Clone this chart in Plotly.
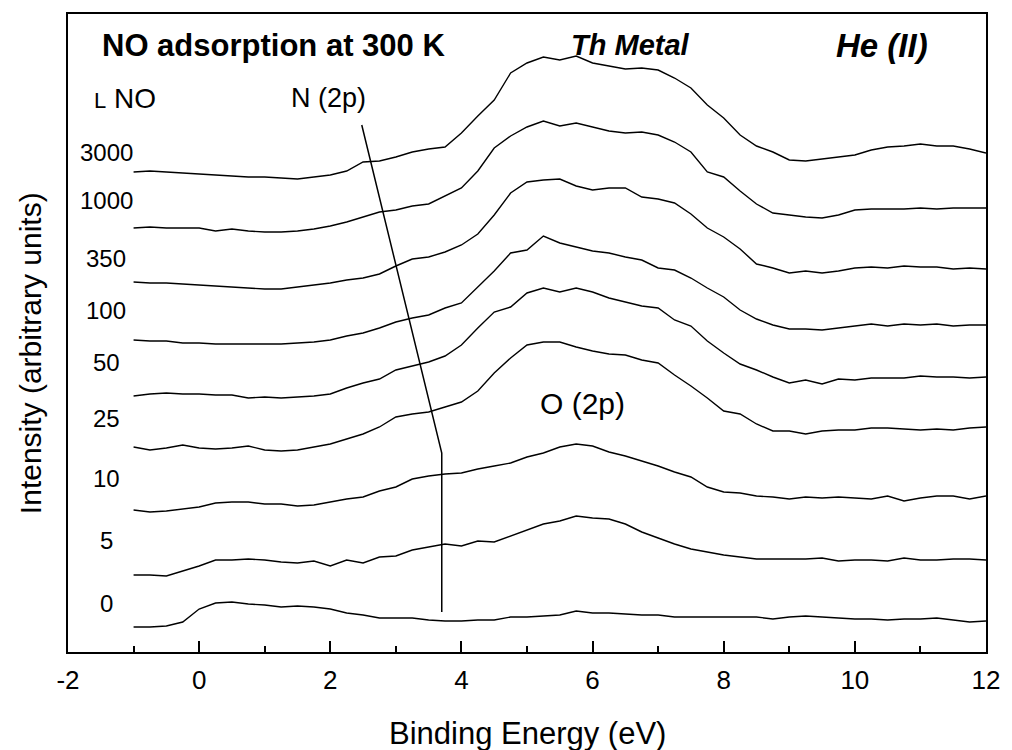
import plotly.graph_objects as go

# Binding energy grid (eV)
energy = [-1.0, -0.75, -0.5, -0.25, 0.0, 0.25, 0.5, 0.75, 1.0, 1.25, 1.5, 1.75,
          2.0, 2.25, 2.5, 2.75, 3.0, 3.25, 3.5, 3.75, 4.0, 4.25, 4.5, 4.75,
          5.0, 5.25, 5.5, 5.75, 6.0, 6.25, 6.5, 6.75, 7.0, 7.25, 7.5, 7.75,
          8.0, 8.25, 8.5, 8.75, 9.0, 9.25, 9.5, 9.75, 10.0, 10.25, 10.5, 10.75,
          11.0, 11.25, 11.5, 11.75, 12.0]

# Stacked spectra (intensity, arbitrary units, including vertical offsets)
spec_3000 = [480, 481, 480, 479, 478, 477, 476, 475, 475, 474, 473, 475, 477, 481, 490,
             491, 495, 500, 503, 505, 519, 536, 552, 579, 589, 595, 592, 596, 589, 586,
             583, 584, 582, 574, 564, 547, 534, 517, 506, 500, 492, 491, 493, 495, 497,
             502, 505, 506, 508, 506, 506, 503, 499]
spec_1000 = [424, 425, 424, 424, 424, 421, 423, 421, 420, 420, 421, 423, 426, 430, 435,
             440, 442, 446, 448, 456, 464, 481, 504, 516, 525, 531, 526, 529, 525, 521,
             519, 520, 517, 510, 500, 480, 475, 461, 448, 439, 437, 435, 434, 437, 442,
             443, 443, 443, 444, 443, 444, 444, 444]
spec_350 = [370, 369, 369, 368, 367, 366, 365, 364, 363, 363, 365, 367, 369, 372, 374,
            378, 386, 393, 395, 400, 407, 418, 437, 459, 470, 472, 473, 466, 462, 464,
            464, 455, 453, 449, 438, 424, 415, 403, 388, 384, 379, 381, 379, 381, 384,
            385, 384, 386, 385, 385, 383, 384, 383]
spec_100 = [312, 311, 311, 309, 309, 308, 308, 308, 308, 308, 309, 310, 312, 316, 319,
            324, 330, 334, 337, 344, 349, 365, 381, 399, 402, 416, 409, 405, 401, 399,
            395, 392, 384, 382, 374, 364, 355, 342, 333, 327, 323, 323, 322, 324, 326,
            328, 326, 328, 327, 328, 326, 327, 327]
spec_50 = [256, 258, 259, 258, 258, 257, 257, 254, 255, 254, 255, 256, 258, 264, 269,
           273, 282, 286, 290, 296, 307, 324, 340, 345, 359, 364, 360, 364, 360, 354,
           350, 346, 344, 332, 326, 311, 299, 288, 282, 275, 269, 272, 268, 273, 272,
           274, 274, 274, 276, 275, 275, 274, 275]
spec_25 = [205, 202, 204, 207, 204, 203, 204, 206, 202, 201, 202, 205, 208, 213, 218,
           225, 235, 238, 240, 245, 250, 261, 279, 294, 307, 310, 310, 305, 301, 298,
           297, 292, 289, 277, 266, 254, 241, 238, 228, 221, 221, 218, 221, 222, 222,
           224, 224, 223, 222, 223, 222, 224, 225]
spec_10 = [142, 140, 141, 143, 145, 149, 150, 150, 148, 148, 146, 147, 150, 153, 155,
           161, 165, 173, 176, 178, 179, 183, 186, 189, 195, 199, 205, 208, 206, 200,
           196, 191, 186, 180, 175, 165, 160, 159, 156, 155, 153, 155, 154, 155, 154,
           153, 156, 151, 154, 156, 156, 153, 156]
spec_5 = [77, 77, 76, 81, 86, 92, 92, 93, 92, 90, 89, 91, 86, 92, 89,
          95, 96, 102, 105, 108, 106, 111, 110, 116, 122, 128, 131, 136, 134, 133,
          128, 120, 114, 108, 103, 100, 97, 95, 93, 93, 93, 93, 94, 91, 92,
          92, 91, 94, 92, 92, 93, 93, 92]
spec_0 = [25, 25, 26, 30, 43, 49, 50, 48, 47, 45, 46, 45, 43, 39, 37,
          34, 34, 34, 32, 31, 31, 32, 32, 35, 35, 36, 37, 41, 39, 39,
          38, 37, 37, 35, 35, 35, 35, 35, 35, 33, 35, 36, 35, 34, 33,
          33, 32, 33, 33, 34, 32, 30, 31]

spectra = [spec_3000, spec_1000, spec_350, spec_100, spec_50, spec_25, spec_10, spec_5, spec_0]

# Exposure labels (L NO) and their vertical positions
exposure_labels = ["3000", "1000", "350", "100", "50", "25", "10", "5", "0"]
exposure_label_y = [500, 452, 394, 342, 290, 234, 174, 112, 49]
exposure_label_x = -1.42

# x tick labels
x_tick_values = [-2, 0, 2, 4, 6, 8, 10, 12]
x_tick_text = ["-2", "0", "2", "4", "6", "8", "10", "12"]

# N(2p) guide line
n2p_energy = [2.48, 3.70, 3.70]
n2p_intensity = [527, 199, 40]

FONT = "Arial, Liberation Sans, Helvetica, sans-serif"

fig = go.Figure()
for s in spectra:
    fig.add_trace(go.Scatter(x=energy, y=s, mode="lines",
                             line=dict(color="black", width=1.4),
                             showlegend=False, hoverinfo="skip"))
fig.add_trace(go.Scatter(x=n2p_energy, y=n2p_intensity, mode="lines",
                         line=dict(color="black", width=1.5),
                         showlegend=False, hoverinfo="skip"))

annotations = []
for lab, yy in zip(exposure_labels, exposure_label_y):
    annotations.append(dict(x=exposure_label_x, y=yy, xref="x", yref="y", text=lab,
                            showarrow=False, xanchor="center", yanchor="middle",
                            font=dict(family=FONT, size=24, color="black")))
annotations += [
    dict(x=1.135, y=607, xref="x", yref="y", text="<b>NO adsorption at 300 K</b>",
         showarrow=False, xanchor="center", yanchor="middle",
         font=dict(family=FONT, size=31, color="black")),
    dict(x=6.58, y=607, xref="x", yref="y", text="<b><i>Th Metal</i></b>",
         showarrow=False, xanchor="center", yanchor="middle",
         font=dict(family=FONT, size=29, color="black")),
    dict(x=10.42, y=607, xref="x", yref="y", text="<b><i>He (II)</i></b>",
         showarrow=False, xanchor="center", yanchor="middle",
         font=dict(family=FONT, size=33, color="black")),
    dict(x=-1.135, y=554, xref="x", yref="y",
         text="<span style='font-size:22px'>L</span> NO",
         showarrow=False, xanchor="center", yanchor="middle",
         font=dict(family=FONT, size=28, color="black")),
    dict(x=1.97, y=554, xref="x", yref="y", text="N (2p)",
         showarrow=False, xanchor="center", yanchor="middle",
         font=dict(family=FONT, size=27, color="black")),
    dict(x=5.84, y=249, xref="x", yref="y", text="O (2p)",
         showarrow=False, xanchor="center", yanchor="middle",
         font=dict(family=FONT, size=30, color="black")),
    dict(x=0.5, y=-0.127, xref="paper", yref="paper", text="Binding Energy (eV)",
         showarrow=False, xanchor="center", yanchor="middle",
         font=dict(family=FONT, size=31, color="black")),
    dict(x=-0.041, y=0.469, xref="paper", yref="paper", text="Intensity (arbitrary units)",
         showarrow=False, xanchor="center", yanchor="middle", textangle=-90,
         font=dict(family=FONT, size=30, color="black")),
]

fig.update_layout(
    width=1012, height=750,
    margin=dict(l=68, r=19, t=14, b=98),
    paper_bgcolor="white", plot_bgcolor="white",
    annotations=annotations,
    xaxis=dict(range=[-2, 12], tickmode="array", tickvals=x_tick_values,
               ticktext=x_tick_text, ticks="inside", ticklen=11,
               tickwidth=1.5, tickcolor="black", showline=True, linewidth=2,
               linecolor="black", mirror=True, showgrid=False, zeroline=False,
               tickfont=dict(family=FONT, size=26, color="black"),
               ticklabelstandoff=4,
               minor=dict(ticks="inside", ticklen=6, dtick=1, tick0=0,
                          tickwidth=1.5, tickcolor="black", showgrid=False)),
    yaxis=dict(range=[0, 638], showticklabels=False, ticks="", showline=True,
               linewidth=2, linecolor="black", mirror=True, showgrid=False,
               zeroline=False),
)

fig.write_html("out.html")
